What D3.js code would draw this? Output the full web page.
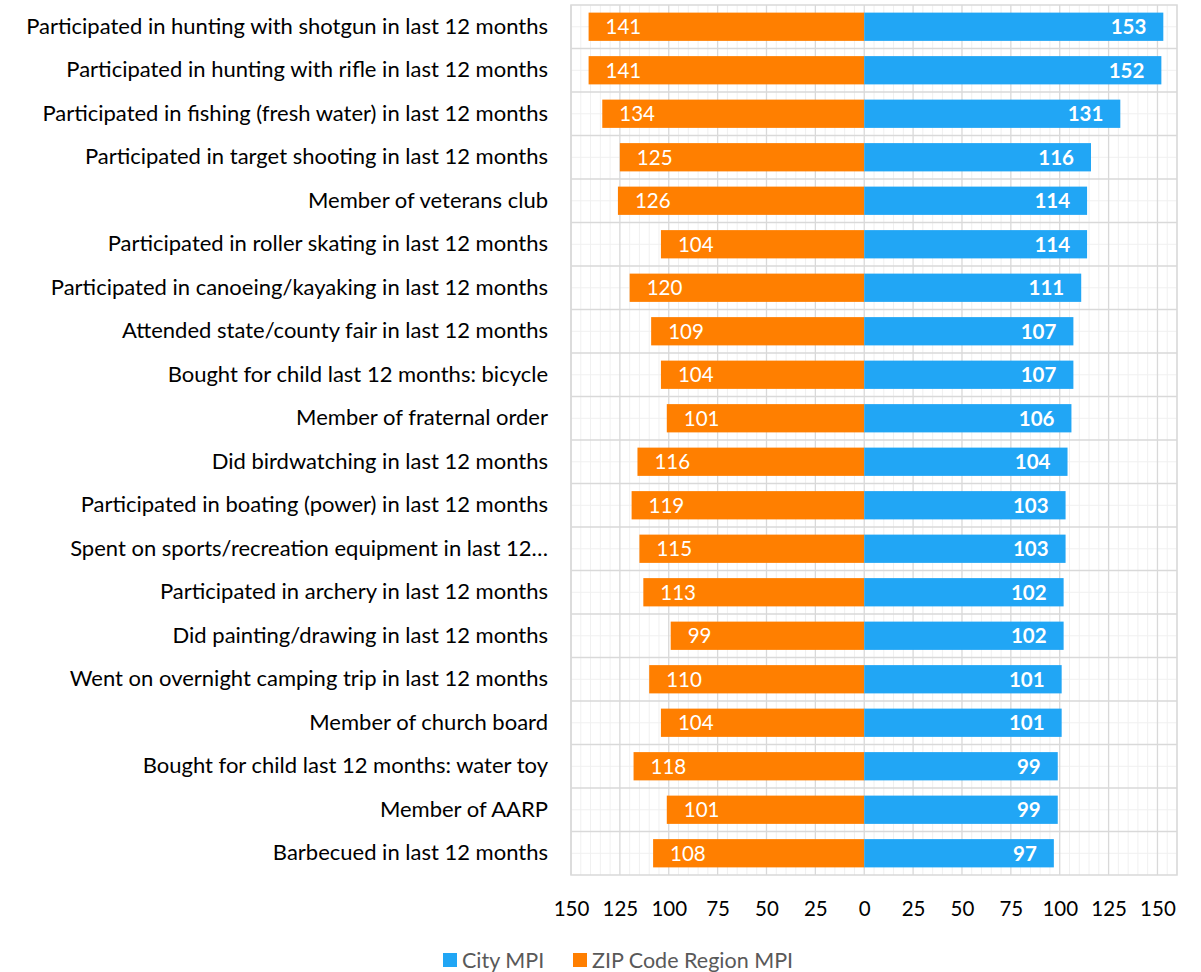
<!DOCTYPE html>
<html>
<head>
<meta charset="utf-8">
<script src="https://cdn.jsdelivr.net/npm/d3@7"></script>
<style>
  html, body { margin: 0; padding: 0; background: #fff; }
  svg { display: block; }
  text { font-family: Lato, "Open Sans", sans-serif; }
</style>
</head>
<body>
<svg id="chart" width="1201" height="972"></svg>
<script>
const categories = [
  "Participated in hunting with shotgun in last 12 months",
  "Participated in hunting with rifle in last 12 months",
  "Participated in fishing (fresh water) in last 12 months",
  "Participated in target shooting in last 12 months",
  "Member of veterans club",
  "Participated in roller skating in last 12 months",
  "Participated in canoeing/kayaking in last 12 months",
  "Attended state/county fair in last 12 months",
  "Bought for child last 12 months: bicycle",
  "Member of fraternal order",
  "Did birdwatching in last 12 months",
  "Participated in boating (power) in last 12 months",
  "Spent on sports/recreation equipment in last 12\u2026",
  "Participated in archery in last 12 months",
  "Did painting/drawing in last 12 months",
  "Went on overnight camping trip in last 12 months",
  "Member of church board",
  "Bought for child last 12 months: water toy",
  "Member of AARP",
  "Barbecued in last 12 months"
];
const cityMPI = [153, 152, 131, 116, 114, 114, 111, 107, 107, 106, 104, 103, 103, 102, 102, 101, 101, 99, 99, 97];
const zipMPI  = [141, 141, 134, 125, 126, 104, 120, 109, 104, 101, 116, 119, 115, 113, 99, 110, 104, 118, 101, 108];
const tickValues = [-150, -125, -100, -75, -50, -25, 0, 25, 50, 75, 100, 125, 150];
const seriesNames = ["City MPI", "ZIP Code Region MPI"];

const BLUE = "#21A6F5";
const ORANGE = "#FF7F00";

const svg = d3.select("#chart");
const pLeft = 571, pRight = 1177, pTop = 5, pBottom = 875;

const x = d3.scaleLinear().domain([-150, 160]).range([pLeft, pRight]);
const y = d3.scaleBand().domain(categories).range([pTop, pBottom])
  .paddingInner(0.35).paddingOuter(0.175);

// grid
const grid = svg.append("g");
const step = y.step();
grid.selectAll("line.vminor").data(d3.range(-150, 161, 5).filter(v => v % 25 !== 0))
  .join("line")
  .attr("x1", d => x(d)).attr("x2", d => x(d))
  .attr("y1", pTop).attr("y2", pBottom)
  .attr("stroke", "#F0F0F0").attr("stroke-width", 1);
grid.selectAll("line.hminor").data(categories)
  .join("line")
  .attr("x1", pLeft).attr("x2", pRight)
  .attr("y1", d => y(d) + y.bandwidth() / 2).attr("y2", d => y(d) + y.bandwidth() / 2)
  .attr("stroke", "#F0F0F0").attr("stroke-width", 1);
grid.selectAll("line.vmajor").data(tickValues)
  .join("line")
  .attr("x1", d => x(d)).attr("x2", d => x(d))
  .attr("y1", pTop).attr("y2", pBottom)
  .attr("stroke", "#D9D9D9").attr("stroke-width", 1.3);
grid.selectAll("line.hmajor").data(d3.range(1, categories.length))
  .join("line")
  .attr("x1", pLeft).attr("x2", pRight)
  .attr("y1", d => pTop + d * step).attr("y2", d => pTop + d * step)
  .attr("stroke", "#D9D9D9").attr("stroke-width", 1.3);
grid.append("rect")
  .attr("x", pLeft).attr("y", pTop)
  .attr("width", pRight - pLeft).attr("height", pBottom - pTop)
  .attr("fill", "none").attr("stroke", "#D9D9D9").attr("stroke-width", 1.5);

// bars
const rows = categories.map((c, i) => ({ cat: c, city: cityMPI[i], zip: zipMPI[i] }));

svg.append("g").selectAll("rect").data(rows).join("rect")
  .attr("x", d => x(-d.zip)).attr("y", d => y(d.cat))
  .attr("width", d => x(0) - x(-d.zip)).attr("height", y.bandwidth())
  .attr("fill", ORANGE);

svg.append("g").selectAll("rect").data(rows).join("rect")
  .attr("x", x(0)).attr("y", d => y(d.cat))
  .attr("width", d => x(d.city) - x(0)).attr("height", y.bandwidth())
  .attr("fill", BLUE);

// value labels
svg.append("g").selectAll("text").data(rows).join("text")
  .attr("x", d => x(-d.zip) + 17)
  .attr("y", d => y(d.cat) + y.bandwidth() / 2)
  .attr("dy", "0.36em")
  .attr("fill", "#fff").attr("font-size", 20.5)
  .text(d => d.zip);

svg.append("g").selectAll("text").data(rows).join("text")
  .attr("x", d => x(d.city) - 17)
  .attr("y", d => y(d.cat) + y.bandwidth() / 2)
  .attr("dy", "0.36em")
  .attr("text-anchor", "end")
  .attr("fill", "#fff").attr("font-size", 20.5).attr("font-weight", "bold")
  .text(d => d.city);

// category axis
const yAxis = svg.append("g").attr("transform", `translate(${pLeft},0)`)
  .call(d3.axisLeft(y).tickSize(0).tickPadding(23));
yAxis.select(".domain").remove();
yAxis.selectAll("text").attr("font-size", 22).attr("fill", "#000")
  .attr("font-family", "Lato, 'Open Sans', sans-serif");

// value axis
const xAxis = svg.append("g").attr("transform", `translate(0,${pBottom})`)
  .call(d3.axisBottom(x).tickValues(tickValues).tickSize(0).tickPadding(26)
    .tickFormat(d => Math.abs(d)));
xAxis.select(".domain").remove();
xAxis.selectAll("text").attr("font-size", 20.5).attr("fill", "#000")
  .attr("font-family", "Lato, 'Open Sans', sans-serif");

// legend
const legend = svg.append("g");
const legItems = [
  { name: seriesNames[0], color: BLUE, x: 443 },
  { name: seriesNames[1], color: ORANGE, x: 573 }
];
legItems.forEach(it => {
  legend.append("rect").attr("x", it.x).attr("y", 953)
    .attr("width", 14).attr("height", 14).attr("fill", it.color);
  legend.append("text").attr("x", it.x + 19).attr("y", 960).attr("dy", "0.36em")
    .attr("font-size", 21.5).attr("fill", "#595959").text(it.name);
});
</script>
</body>
</html>
